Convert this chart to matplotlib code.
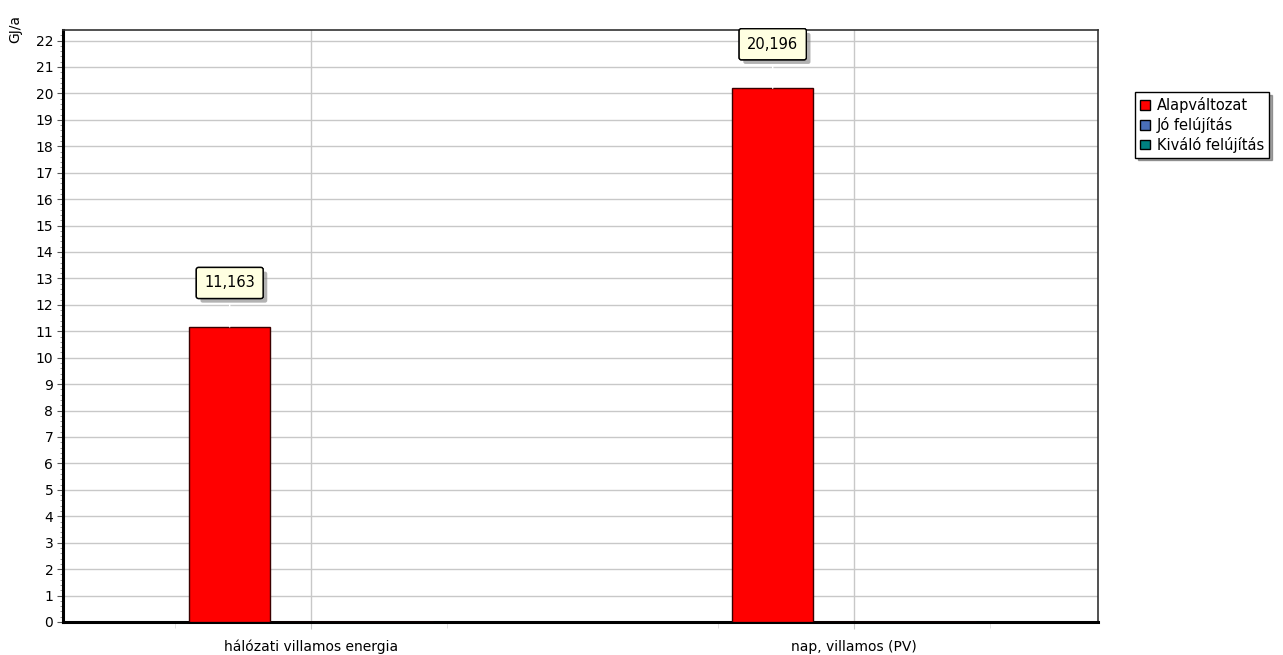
import matplotlib.pyplot as plt
import matplotlib.patheffects as pe
import numpy as np

# Data
categories = ['hálózati villamos energia', 'nap, villamos (PV)']
series_names = ['Alapváltozat', 'Jó felújítás', 'Kiváló felújítás']
series_colors = ['#ff0000', '#4a6fb8', '#008080']
alap = [11.163, 20.196]
jo = [0.0, 0.0]
kivalo = [0.0, 0.0]
value_labels = ['11,163', '20,196']

plt.rcParams['font.family'] = ['DejaVu Sans']
plt.rcParams['font.size'] = 10

fig = plt.figure(figsize=(12.83, 6.55), dpi=100)
ax = fig.add_axes([0.0491, 0.0504, 0.8067, 0.9038])

x = np.arange(len(categories))
w = 0.15
series = [alap, jo, kivalo]
for i, (vals, name, col) in enumerate(zip(series, series_names, series_colors)):
    ax.bar(x + (i - 1) * w, vals, width=w, color=col, edgecolor='#3a0000',
           linewidth=1, label=name, zorder=3)

# value boxes above the first series
for xi, v, lab in zip(x - w, alap, value_labels):
    t = ax.annotate(lab, xy=(xi, v), xytext=(0, 44), textcoords='offset pixels',
                    ha='center', va='center', fontsize=10.5, zorder=5,
                    bbox=dict(boxstyle='round,pad=0.55,rounding_size=0.15', fc='#ffffe1', ec='black', lw=1),
                    arrowprops=dict(arrowstyle='-', color='white', lw=1, shrinkA=0, shrinkB=0))
    t.get_bbox_patch().set_path_effects([pe.withSimplePatchShadow(offset=(3, -3), shadow_rgbFace='#808080', alpha=0.6), pe.Normal()])

ax.set_xlim(-0.457, 1.449)
ax.set_ylim(0, 22.4)
ax.set_yticks(range(0, 23))
ax.set_yticks(np.arange(0, 22.4, 0.2), minor=True)
ax.set_xticks(x)
ax.set_xticklabels(categories)
ax.set_xticks([-0.25, 0.25, 0.75, 1.25], minor=True)
for lbl in ax.get_xticklabels():
    lbl.set_va('baseline')

ax.grid(axis='both', which='major', color='#c8c8c8', lw=1, zorder=0)
ax.set_axisbelow(True)
ax.tick_params(axis='y', which='major', length=4, color='#555555', pad=3)
ax.tick_params(axis='y', which='minor', length=2, color='#888888')
ax.tick_params(axis='x', which='major', length=5, color='#c8c8c8', pad=16)
ax.tick_params(axis='x', which='minor', length=4, color='#dddddd')

ax.spines['left'].set_linewidth(2.2)
ax.spines['bottom'].set_linewidth(2.2)
ax.spines['left'].set_color('black')
ax.spines['bottom'].set_color('black')
ax.spines['top'].set_color('#333333')
ax.spines['right'].set_color('#333333')
ax.spines['top'].set_linewidth(1.2)
ax.spines['right'].set_linewidth(1.2)

fig.text(0.012, 0.955, 'GJ/a', rotation=90, ha='center', va='center', fontsize=10)

leg = ax.legend(loc='upper left', bbox_to_anchor=(1.0357, 0.895), frameon=True, shadow=True,
                fancybox=False, handlelength=0.65, handleheight=0.65, handletextpad=0.5,
                borderpad=0.35, labelspacing=0.25, fontsize=10.5, borderaxespad=0)
leg.get_frame().set_edgecolor('black')
leg.get_frame().set_linewidth(1)
for h in leg.legend_handles:
    h.set_edgecolor('black')

fig.savefig('out.png', dpi=100)
